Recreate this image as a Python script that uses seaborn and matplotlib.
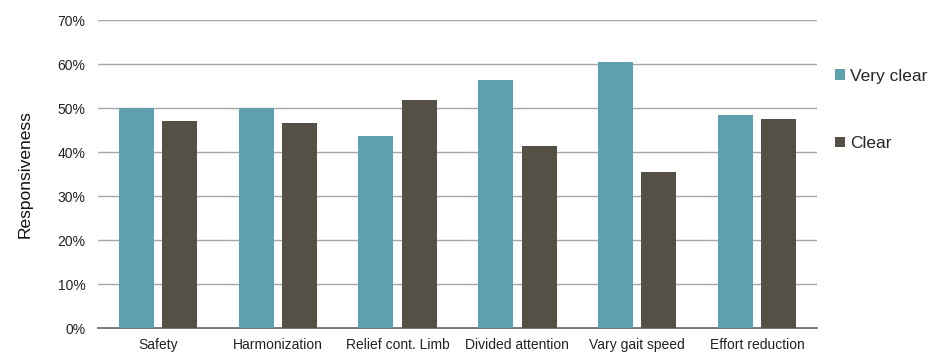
import matplotlib
matplotlib.use("Agg")
import matplotlib.pyplot as plt
import seaborn as sns
import pandas as pd
from matplotlib.ticker import PercentFormatter
from matplotlib.patches import Patch

categories = ["Safety", "Harmonization", "Relief cont. Limb", "Divided attention",
              "Vary gait speed", "Effort reduction"]
very_clear = [50.0, 49.9, 43.7, 56.4, 60.4, 48.4]
clear = [47.1, 46.5, 51.8, 41.4, 35.5, 47.5]
series_names = ["Very clear", "Clear"]
colors = ["#5FA0AF", "#545046"]

df = pd.DataFrame({
    "category": categories * 2,
    "value": very_clear + clear,
    "series": [series_names[0]] * len(categories) + [series_names[1]] * len(categories),
})

sns.set_theme(style="white")
plt.rcParams["font.family"] = ["Liberation Sans", "DejaVu Sans"]

fig = plt.figure(figsize=(9.32, 3.53), dpi=100)
ax = fig.add_axes([98 / 932, 1 - 328 / 353, (817 - 98) / 932, (328 - 20) / 353])

sns.barplot(data=df, x="category", y="value", hue="series", order=categories,
            hue_order=series_names, palette=colors, width=0.7245, gap=0.194,
            saturation=1, ax=ax, legend=False, zorder=3, linewidth=0,
            edgecolor="none")

ax.set_ylim(0, 70)
ax.set_yticks(range(0, 71, 10))
ax.yaxis.set_major_formatter(PercentFormatter(decimals=0))
ax.set_xlim(-0.5, len(categories) - 0.5)
ax.grid(axis="y", color="#A6A6A6", linewidth=1.0, zorder=0)
ax.set_axisbelow(True)
for s in ["top", "right", "left"]:
    ax.spines[s].set_visible(False)
ax.spines["bottom"].set_color("#707070")
ax.spines["bottom"].set_linewidth(1.3)
ax.tick_params(axis="both", length=0, labelsize=10, colors="#222222")
ax.tick_params(axis="y", pad=9)
ax.tick_params(axis="x", pad=7)
ax.set_xlabel("")
ax.set_ylabel("Responsiveness", fontsize=12.5, color="#111111", labelpad=18)

handles = [Patch(facecolor=c, edgecolor="none") for c in colors]
leg = fig.legend(handles, series_names, loc="upper left",
                 bbox_to_anchor=(835 / 932, 1 - 69 / 353), frameon=False,
                 fontsize=12.5, handlelength=0.58, handleheight=0.58, handletextpad=0.3,
                 labelspacing=3.0, borderaxespad=0, borderpad=0)

fig.savefig("out.png", dpi=100)
